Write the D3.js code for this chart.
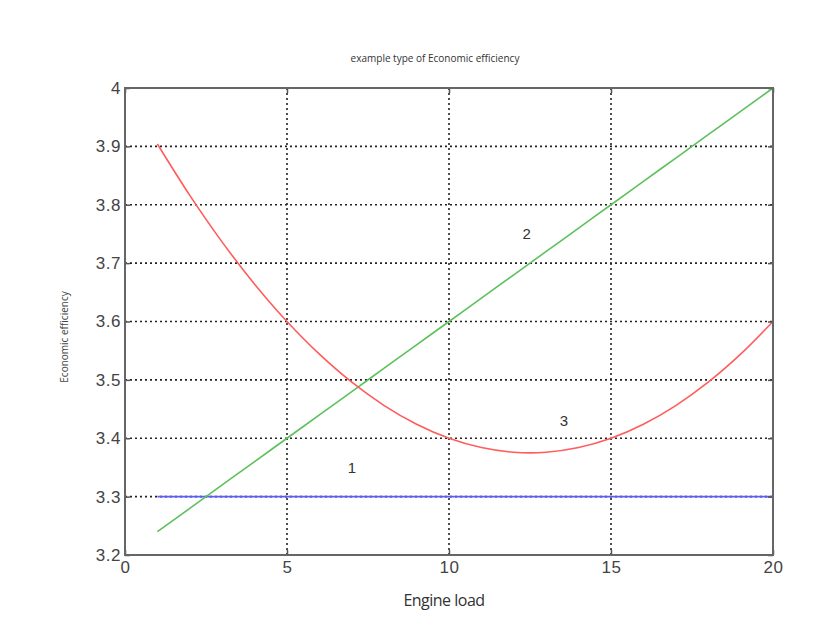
<!DOCTYPE html>
<html>
<head>
<meta charset="utf-8">
<script src="https://cdn.jsdelivr.net/npm/d3@7"></script>
<style>
  body { margin: 0; background: #fff; }
  svg { display: block; }
</style>
</head>
<body>
<div></div>
<script>
// data
const xTicks = [0, 5, 10, 15, 20];
const yTicks = [3.2, 3.3, 3.4, 3.5, 3.6, 3.7, 3.8, 3.9, 4];
const loads = [1, 2, 3, 4, 5, 6, 7, 8, 9, 10, 11, 12, 13, 14, 15, 16, 17, 18, 19, 20];
const curve1 = [3.3, 3.3, 3.3, 3.3, 3.3, 3.3, 3.3, 3.3, 3.3, 3.3, 3.3, 3.3, 3.3, 3.3, 3.3, 3.3, 3.3, 3.3, 3.3, 3.3];
const curve2 = [3.24, 3.28, 3.32, 3.36, 3.4, 3.44, 3.48, 3.52, 3.56, 3.6, 3.64, 3.68, 3.72, 3.76, 3.8, 3.84, 3.88, 3.92, 3.96, 4.0];
const curve3 = [3.904, 3.816, 3.736, 3.664, 3.6, 3.544, 3.496, 3.456, 3.424, 3.4, 3.384, 3.376, 3.376, 3.384, 3.4, 3.424, 3.456, 3.496, 3.544, 3.6];
const curveLabels = [
    { text: "1", x: 7.0, y: 3.35 },
    { text: "2", x: 12.4, y: 3.75 },
    { text: "3", x: 13.55, y: 3.43 }
];

var margin = { top: 88, right: 53, bottom: 73, left: 125 },
    width = 826 - margin.left - margin.right,
    height = 628 - margin.top - margin.bottom;

var svg = d3.select("div")
    .append("svg")
    .attr("width", 826)
    .attr("height", 628);

var g = svg.append("g")
    .attr("transform", "translate(" + margin.left + "," + margin.top + ")");

const x = d3.scaleLinear().domain([0, 20]).range([0, width]);
const y = d3.scaleLinear().domain([3.2, 4]).range([height, 0]);

// dotted grid
g.selectAll(".vgrid")
    .data(xTicks.slice(1, -1))
    .join("line")
    .attr("x1", d => x(d)).attr("x2", d => x(d))
    .attr("y1", 0).attr("y2", height)
    .attr("stroke", "#222")
    .attr("stroke-width", 1.6)
    .attr("stroke-dasharray", "2,3");

g.selectAll(".hgrid")
    .data(yTicks.slice(1, -1))
    .join("line")
    .attr("x1", 0).attr("x2", width)
    .attr("y1", d => y(d)).attr("y2", d => y(d))
    .attr("stroke", "#222")
    .attr("stroke-width", 1.6)
    .attr("stroke-dasharray", "2,3");

// curves
const line = d3.line()
    .x((d, i) => x(loads[i]))
    .y(d => y(d))
    .curve(d3.curveCatmullRom);

const series = [
    { values: curve1, color: "#5b5bff" },
    { values: curve2, color: "#5cc15c" },
    { values: curve3, color: "#ff5c5c" }
];

g.selectAll(".curve")
    .data(series)
    .join("path")
    .attr("d", d => line(d.values))
    .attr("fill", "none")
    .attr("stroke", d => d.color)
    .attr("stroke-width", 1.6);

// curve numbers
g.selectAll(".clabel")
    .data(curveLabels)
    .join("text")
    .attr("x", d => x(d.x))
    .attr("y", d => y(d.y))
    .attr("dy", "0.35em")
    .attr("text-anchor", "middle")
    .attr("font-family", "Liberation Sans, Arial, sans-serif")
    .attr("font-size", 15)
    .attr("fill", "#333")
    .text(d => d.text);

// axes (ticks point inward, MATLAB style)
const axisStyle = sel => {
    sel.select(".domain").remove();
    sel.selectAll(".tick line").attr("stroke", "#555").attr("stroke-width", 1.5);
    sel.selectAll(".tick text")
        .attr("font-family", "Liberation Sans, Arial, sans-serif")
        .attr("font-size", 17)
        .attr("letter-spacing", 0.5)
        .attr("fill", "#444");
};

g.append("g")
    .attr("transform", "translate(0," + height + ")")
    .call(d3.axisBottom(x).tickValues(xTicks).tickSize(-5).tickPadding(6))
    .call(axisStyle);

g.append("g")
    .call(d3.axisLeft(y).tickValues(yTicks).tickSize(-5).tickPadding(4).tickFormat(d3.format(".1~f")))
    .call(axisStyle);

g.append("g")
    .call(d3.axisTop(x).tickValues(xTicks).tickSize(-5).tickFormat(""))
    .call(axisStyle);

g.append("g")
    .attr("transform", "translate(" + width + ",0)")
    .call(d3.axisRight(y).tickValues(yTicks).tickSize(-5).tickFormat(""))
    .call(axisStyle);

// frame
g.append("rect")
    .attr("width", width)
    .attr("height", height)
    .attr("fill", "none")
    .attr("stroke", "#666")
    .attr("stroke-width", 2);

// titles
svg.append("text")
    .attr("x", 435)
    .attr("y", 62)
    .attr("text-anchor", "middle")
    .attr("font-family", "Open Sans, sans-serif")
    .attr("font-size", 10)
    .attr("fill", "#333")
    .text("example type of Economic efficiency");

svg.append("text")
    .attr("x", 444)
    .attr("y", 606)
    .attr("text-anchor", "middle")
    .attr("font-family", "Open Sans, sans-serif")
    .attr("font-size", 16)
    .attr("letter-spacing", -0.5)
    .attr("fill", "#333")
    .text("Engine load");

svg.append("text")
    .attr("transform", "translate(68,337) rotate(-90)")
    .attr("text-anchor", "middle")
    .attr("font-family", "Open Sans, sans-serif")
    .attr("font-size", 10)
    .attr("fill", "#444")
    .text("Economic efficiency");
</script>
</body>
</html>
